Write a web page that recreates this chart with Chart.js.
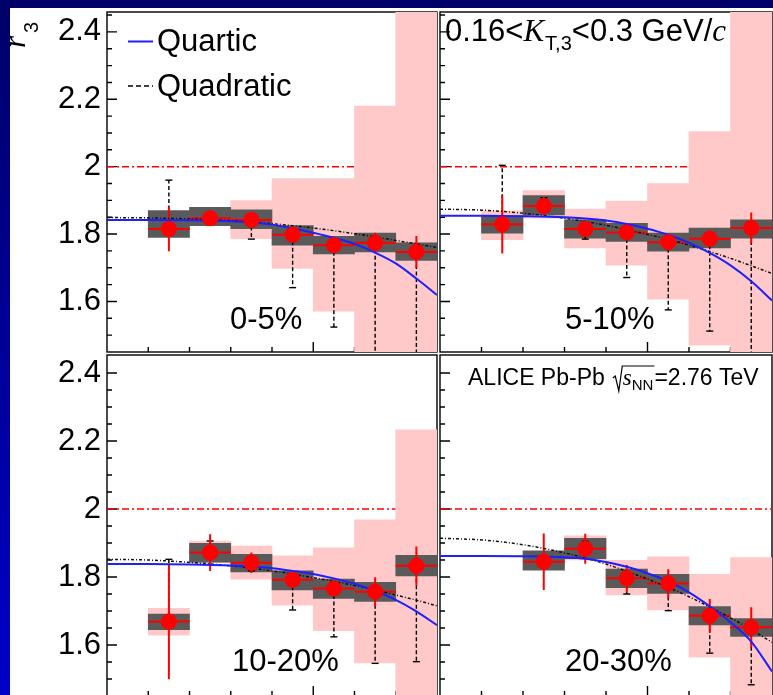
<!DOCTYPE html>
<html>
<head>
<meta charset="utf-8">
<title>r3 versus q3, four centrality classes</title>
<script src="https://cdn.jsdelivr.net/npm/chart.js@4/dist/chart.umd.min.js"></script>
<style>
  html, body { margin: 0; padding: 0; }
  body {
    width: 773px; height: 695px; overflow: hidden; position: relative;
    background: linear-gradient(to bottom, #000068 0%, #0000c8 100%);
  }
  #sheet { position: absolute; left: 10px; top: 8px; width: 800px; height: 720px; background: #fff; }
  canvas { position: absolute; }
</style>
</head>
<body>
<div id="sheet"></div>
<canvas id="pTL" width="445" height="360" style="left:0px;top:0px"></canvas>
<canvas id="pTR" width="350" height="360" style="left:430px;top:0px"></canvas>
<canvas id="pBL" width="445" height="360" style="left:0px;top:345px"></canvas>
<canvas id="pBR" width="350" height="360" style="left:430px;top:345px"></canvas>
<script>
// ---- data -------------------------------------------------------------
// q3 bin centres (GeV/c) and bin width
const binCenters = [0.03, 0.05, 0.07, 0.09, 0.11, 0.13, 0.15];
const binWidth = 0.02;
// q3 values where the fit curves are sampled
const curveQ3 = [0, 0.02, 0.04, 0.06, 0.07, 0.08, 0.09, 0.10, 0.11, 0.12, 0.13, 0.14, 0.15, 0.16];
const yTickLabels = ['1.6', '1.8', '2', '2.2', '2.4'];
const centralityLabels = ['0-5%', '5-10%', '10-20%', '20-30%'];
const r3Reference = 2;

// 0-5%
const r3_c0 = [1.815, 1.847, 1.842, 1.798, 1.767, 1.774, 1.747];
const stat_c0 = [0.066, 0.015, 0.015, 0.015, 0.015, 0.030, 0.047];
const sys_c0 = [[1.790, 1.870], [1.825, 1.879], [1.816, 1.872], [1.767, 1.825], [1.741, 1.793], [1.747, 1.803], [1.722, 1.774]];
const band_c0 = [null, null, [1.786, 1.899], [1.698, 1.965], [1.571, 1.965], [1.40, 2.18], [1.40, 2.50]];
const tail_c0 = [1.960, null, 1.785, 1.641, 1.524, 1.40, 1.40];
const quartic_c0 = [1.842, 1.842, 1.841, 1.838, 1.834, 1.828, 1.817, 1.804, 1.789, 1.771, 1.745, 1.713, 1.668, 1.619];
const quadratic_c0 = [1.849, 1.848, 1.845, 1.840, 1.836, 1.831, 1.825, 1.818, 1.810, 1.801, 1.792, 1.781, 1.771, 1.760];

// 5-10%
const r3_c1 = [1.829, 1.883, 1.815, 1.805, 1.776, 1.786, 1.818];
const stat_c1 = [0.087, 0.027, 0.015, 0.015, 0.015, 0.025, 0.046];
const sys_c1 = [[1.803, 1.854], [1.857, 1.914], [1.788, 1.842], [1.778, 1.832], [1.749, 1.803], [1.759, 1.818], [1.788, 1.842]];
const band_c1 = [[1.783, 1.869], [1.847, 1.929], [1.759, 1.874], [1.708, 1.898], [1.607, 1.950], [1.470, 2.104], [1.40, 2.50]];
const tail_c1 = [2.004, 1.908, 1.785, 1.671, 1.575, 1.512, 1.40];
const quartic_c1 = [1.854, 1.854, 1.853, 1.850, 1.846, 1.840, 1.830, 1.816, 1.798, 1.774, 1.744, 1.707, 1.660, 1.603];
const quadratic_c1 = [1.874, 1.871, 1.862, 1.847, 1.837, 1.826, 1.813, 1.799, 1.784, 1.767, 1.748, 1.728, 1.706, 1.683];

// 10-20%
const r3_c2 = [1.669, 1.872, 1.842, 1.792, 1.766, 1.757, 1.833];
const stat_c2 = [0.170, 0.054, 0.030, 0.025, 0.020, 0.042, 0.057];
const sys_c2 = [[1.645, 1.691], [1.844, 1.899], [1.815, 1.867], [1.762, 1.818], [1.737, 1.794], [1.728, 1.784], [1.803, 1.864]];
const band_c2 = [[1.629, 1.708], [1.842, 1.906], [1.794, 1.891], [1.717, 1.862], [1.642, 1.886], [1.547, 1.968], [1.40, 2.233]];
const tail_c2 = [1.852, 1.906, 1.818, 1.703, 1.624, 1.546, 1.551];
const quartic_c2 = [1.838, 1.838, 1.837, 1.834, 1.831, 1.826, 1.818, 1.809, 1.796, 1.780, 1.759, 1.733, 1.699, 1.658];
const quadratic_c2 = [1.852, 1.850, 1.843, 1.833, 1.826, 1.818, 1.809, 1.798, 1.787, 1.775, 1.762, 1.747, 1.732, 1.715];

// 20-30%
const r3_c3 = [null, 1.845, 1.883, 1.796, 1.781, 1.686, 1.652];
const stat_c3 = [null, 0.083, 0.044, 0.039, 0.042, 0.049, 0.059];
const sys_c3 = [null, [1.820, 1.877], [1.854, 1.914], [1.769, 1.823], [1.752, 1.808], [1.659, 1.713], [1.625, 1.678]];
const band_c3 = [null, null, [1.850, 1.921], [1.747, 1.849], [1.703, 1.859], [1.564, 1.808], [1.40, 1.857]];
const tail_c3 = [null, null, 1.905, 1.750, 1.701, 1.576, 1.483];
const quartic_c3 = [1.862, 1.862, 1.861, 1.858, 1.854, 1.844, 1.830, 1.811, 1.787, 1.755, 1.714, 1.667, 1.610, 1.522];
const quadratic_c3 = [1.914, 1.909, 1.895, 1.871, 1.856, 1.838, 1.817, 1.794, 1.769, 1.742, 1.712, 1.680, 1.645, 1.608];

// ---- styling ------------------------------------------------------------
const SANS = "'Liberation Sans', Arimo, Arial, sans-serif";
const SERIF = "'Liberation Serif', 'Times New Roman', serif";
const RED = '#ff0000', BLUE = '#1f1fff', GREY = '#5a5a5a', PINK = '#ffc9c9';
Chart.defaults.font.family = SANS;
Chart.defaults.color = '#000';

function isMultiple(v, step) { const k = v / step; return Math.abs(k - Math.round(k)) < 1e-6; }

// draw a sequence of differently styled text pieces, return end x
function textRuns(ctx, x, y, parts) {
  let cx = x;
  for (const p of parts) {
    ctx.font = p.f;
    ctx.fillText(p.t, cx, y + (p.dy || 0));
    cx += ctx.measureText(p.t).width + (p.gap || 0);
  }
  return cx;
}

// frame and inward tick marks, drawn underneath the data
const frameTicks = {
  id: 'frameTicks',
  beforeDatasetsDraw(chart) {
    const { ctx, chartArea: a, scales: { x, y } } = chart;
    ctx.save();
    ctx.strokeStyle = '#000';
    ctx.lineWidth = 1.4;
    ctx.strokeRect(a.left, a.top, a.right - a.left, a.bottom - a.top);
    ctx.beginPath();
    for (const t of x.ticks) {
      const px = x.getPixelForValue(t.value);
      if (px < a.left + 2 || px > a.right - 2) continue;
      const len = isMultiple(t.value, 0.1) ? 10 : 5;
      ctx.moveTo(px, a.bottom); ctx.lineTo(px, a.bottom - len);
    }
    for (const t of y.ticks) {
      const py = y.getPixelForValue(t.value);
      if (py < a.top + 2 || py > a.bottom - 2) continue;
      const len = isMultiple(t.value, 0.2) ? 10 : 5;
      ctx.moveTo(a.left, py); ctx.lineTo(a.left + len, py);
    }
    ctx.stroke();
    ctx.restore();
  }
};

const panelById = {};

// statistical bars, bin-width bars and one-sided dashed bars, drawn right after the grey boxes
const errorBars = {
  id: 'errorBars',
  afterDatasetDraw(chart, args) {
    if (chart.data.datasets[args.index].label !== 'sys') return;
    const p = panelById[chart.canvas.id];
    const { ctx, chartArea: a, scales: { x, y } } = chart;
    ctx.save();
    ctx.beginPath();
    ctx.rect(a.left, a.top, a.right - a.left, a.bottom - a.top);
    ctx.clip();
    binCenters.forEach((c, i) => {
      const v = p.r3[i];
      if (v == null) return;
      const px = x.getPixelForValue(c), py = y.getPixelForValue(v);
      if (p.tail[i] != null) {
        const pe = y.getPixelForValue(p.tail[i]);
        ctx.strokeStyle = '#000';
        ctx.lineWidth = 1.4;
        ctx.setLineDash([4, 2.5]);
        ctx.beginPath(); ctx.moveTo(px, py); ctx.lineTo(px, pe); ctx.stroke();
        ctx.setLineDash([]);
        ctx.beginPath(); ctx.moveTo(px - 3.5, pe); ctx.lineTo(px + 3.5, pe); ctx.stroke();
      }
      ctx.strokeStyle = RED;
      ctx.lineWidth = 2;
      ctx.beginPath();
      ctx.moveTo(x.getPixelForValue(c - binWidth / 2), py);
      ctx.lineTo(x.getPixelForValue(c + binWidth / 2), py);
      ctx.moveTo(px, y.getPixelForValue(v - p.stat[i]));
      ctx.lineTo(px, y.getPixelForValue(v + p.stat[i]));
      ctx.stroke();
    });
    ctx.restore();
  }
};

// panel annotations, in page coordinates
const panelText = {
  id: 'panelText',
  afterDraw(chart) {
    const p = panelById[chart.canvas.id];
    const ctx = chart.ctx;
    ctx.save();
    ctx.translate(-p.ox, -p.oy);
    ctx.fillStyle = '#000';
    ctx.textBaseline = 'alphabetic';
    ctx.textAlign = 'left';
    p.text(ctx);
    ctx.restore();
  }
};

const F31 = `31px ${SANS}`;

const panels = [
  {
    id: 'pTL', ox: 0, oy: 0, yRange: [1.45, 2.459], showY: true,
    pad: { left: 0, top: 12, right: 6, bottom: 5 },
    r3: r3_c0, stat: stat_c0, sys: sys_c0, band: band_c0, tail: tail_c0, quartic: quartic_c0, quadratic: quadratic_c0,
    text(ctx) {
      // axis title r3
      ctx.save();
      ctx.translate(25, 48);
      ctx.rotate(-Math.PI / 2);
      ctx.font = `italic 31px ${SERIF}`;
      ctx.fillText('r', 0, 0);
      ctx.font = `20px ${SANS}`;
      ctx.fillText('3', 15, 13);
      ctx.restore();
      // legend
      ctx.strokeStyle = BLUE; ctx.lineWidth = 2;
      ctx.beginPath(); ctx.moveTo(128, 41.5); ctx.lineTo(153, 41.5); ctx.stroke();
      ctx.strokeStyle = '#000'; ctx.lineWidth = 1.5; ctx.setLineDash([5, 3]);
      ctx.beginPath(); ctx.moveTo(128, 86); ctx.lineTo(153, 86); ctx.stroke();
      ctx.setLineDash([]);
      ctx.font = F31;
      ctx.fillText('Quartic', 157, 51);
      ctx.fillText('Quadratic', 157, 95.5);
      ctx.fillText(centralityLabels[0], 230, 329);
    }
  },
  {
    id: 'pTR', ox: 430, oy: 0, yRange: [1.45, 2.459], showY: false,
    pad: { left: 10, top: 12, right: 6.5, bottom: 5 },
    r3: r3_c1, stat: stat_c1, sys: sys_c1, band: band_c1, tail: tail_c1, quartic: quartic_c1, quadratic: quadratic_c1,
    text(ctx) {
      textRuns(ctx, 445, 41, [
        { t: '0.16<', f: F31 },
        { t: 'K', f: `italic 31px ${SERIF}`, gap: 1 },
        { t: 'T,3', f: `20px ${SANS}`, dy: 9 },
        { t: '<0.3 GeV/', f: F31 },
        { t: 'c', f: `italic 31px ${SERIF}` }
      ]);
      ctx.font = F31;
      ctx.fillText(centralityLabels[1], 565, 329);
    }
  },
  {
    id: 'pBL', ox: 0, oy: 345, yRange: [1.45, 2.453], showY: true,
    pad: { left: 0, top: 10, right: 6, bottom: 9 },
    r3: r3_c2, stat: stat_c2, sys: sys_c2, band: band_c2, tail: tail_c2, quartic: quartic_c2, quadratic: quadratic_c2,
    text(ctx) {
      ctx.font = F31;
      ctx.fillText(centralityLabels[2], 232, 671);
    }
  },
  {
    id: 'pBR', ox: 430, oy: 345, yRange: [1.45, 2.453], showY: false,
    pad: { left: 10, top: 10, right: 6.5, bottom: 9 },
    r3: r3_c3, stat: stat_c3, sys: sys_c3, band: band_c3, tail: tail_c3, quartic: quartic_c3, quadratic: quadratic_c3,
    text(ctx) {
      const yb = 385;
      ctx.font = `23px ${SANS}`;
      ctx.fillText('ALICE Pb-Pb', 468, yb);
      const xr = 468 + ctx.measureText('ALICE Pb-Pb').width + 8;
      // radical sign over s_NN
      const xs = xr + 10;
      ctx.font = `italic 23px ${SERIF}`;
      ctx.fillText('s', xs, yb);
      const xn = xs + ctx.measureText('s').width;
      ctx.font = `15px ${SANS}`;
      ctx.fillText('NN', xn, yb + 5);
      const xe = xn + ctx.measureText('NN').width;
      ctx.strokeStyle = '#000'; ctx.lineWidth = 1.2;
      ctx.beginPath();
      ctx.moveTo(xr, yb - 7); ctx.lineTo(xr + 2.5, yb - 9);
      ctx.lineTo(xr + 6, yb + 6); ctx.lineTo(xr + 9.5, yb - 19);
      ctx.lineTo(xe + 1, yb - 19);
      ctx.stroke();
      ctx.font = `23px ${SANS}`;
      ctx.fillText('=2.76 TeV', xe + 1, yb);
      ctx.font = F31;
      ctx.fillText(centralityLabels[3], 565, 671);
    }
  }
];

function toBoxes(ranges) {
  return binCenters.map((x, i) => (ranges[i] ? { x, y: ranges[i] } : null)).filter(Boolean);
}

for (const p of panels) {
  panelById[p.id] = p;
  const datasets = [
    {
      type: 'line', label: 'reference',
      data: [{ x: 0, y: r3Reference }, { x: 0.16, y: r3Reference }],
      borderColor: RED, borderWidth: 1.5, borderDash: [7, 3, 2, 3], pointRadius: 0, order: 9
    },
    {
      type: 'bar', label: 'band', data: toBoxes(p.band),
      backgroundColor: PINK, borderWidth: 0, grouped: false,
      barPercentage: 1, categoryPercentage: 1, order: 8
    },
    {
      type: 'bar', label: 'sys', data: toBoxes(p.sys),
      backgroundColor: GREY, borderWidth: 0, grouped: false,
      barPercentage: 1, categoryPercentage: 1, order: 7
    },
    {
      type: 'line', label: 'Quadratic',
      data: curveQ3.map((x, i) => ({ x, y: p.quadratic[i] })),
      borderColor: '#111', borderWidth: 1.5, borderDash: [3, 2, 1, 2],
      pointRadius: 0, cubicInterpolationMode: 'monotone', order: 3
    },
    {
      type: 'line', label: 'Quartic',
      data: curveQ3.map((x, i) => ({ x, y: p.quartic[i] })),
      borderColor: BLUE, borderWidth: 2,
      pointRadius: 0, cubicInterpolationMode: 'monotone', order: 2
    },
    {
      type: 'line', label: 'r3',
      data: binCenters.map((x, i) => (p.r3[i] == null ? null : { x, y: p.r3[i] })).filter(Boolean),
      showLine: false, pointRadius: 8, pointBorderWidth: 0,
      pointBackgroundColor: RED, pointBorderColor: RED, order: 1
    }
  ];

  new Chart(document.getElementById(p.id), {
    type: 'line',
    data: { datasets },
    options: {
      responsive: false,
      animation: false,
      devicePixelRatio: 1,
      events: [],
      layout: { padding: p.pad },
      plugins: { legend: { display: false }, tooltip: { enabled: false }, title: { display: false } },
      scales: {
        x: {
          type: 'linear', min: 0, max: 0.16, display: false, offset: false,
          grid: { offset: false, display: false },
          ticks: { stepSize: 0.02, includeBounds: false }
        },
        y: {
          type: 'linear', min: p.yRange[0], max: p.yRange[1], display: p.showY,
          grid: { display: false, drawTicks: false },
          border: { display: false },
          afterFit(scale) {
            // labels sit left of the frame; keep the plot box fixed
            scale.width = p.showY ? 107 : 0;
            scale.paddingTop = 0;
            scale.paddingBottom = 0;
          },
          ticks: {
            stepSize: 0.05, includeBounds: false, autoSkip: false, padding: 6,
            font: { size: 31 }, color: '#000',
            callback(v) {
              const s = String(+v.toFixed(2));
              return yTickLabels.includes(s) ? s : '';
            }
          }
        }
      }
    },
    plugins: [frameTicks, errorBars, panelText]
  });
}
</script>
</body>
</html>
